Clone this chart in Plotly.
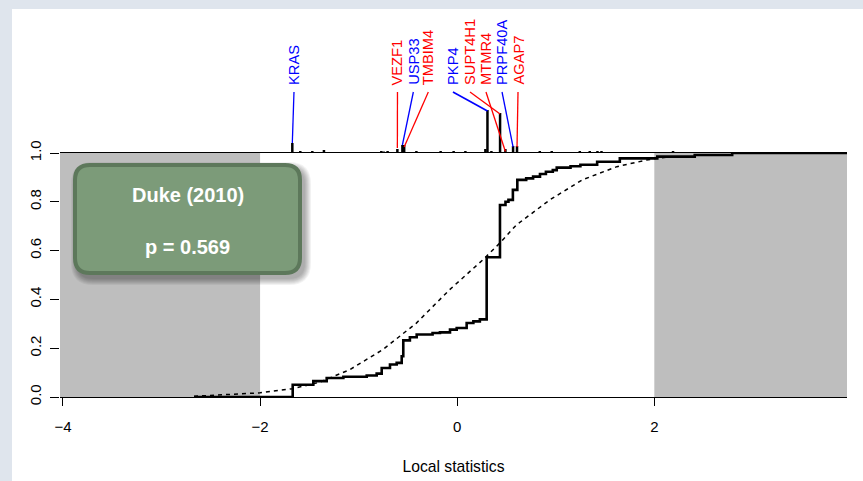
import plotly.graph_objects as go

# ---------------- data ----------------
ecdf_x = [-2.67, -1.669, -1.46, -1.324, -1.155, -0.918, -0.817, -0.766, -0.682, -0.614,
          -0.563, -0.547, -0.48, -0.411, -0.25, -0.175, -0.073, -0.005, 0.096, 0.164,
          0.23, 0.299, 0.434, 0.49, 0.52, 0.565, 0.61, 0.70, 0.77, 0.84, 0.90, 0.97,
          1.01, 1.15, 1.25, 1.42, 1.65, 2.03, 2.41, 2.79, 3.955]
ecdf_y = [0.0, 0.050, 0.065, 0.078, 0.083, 0.088, 0.096, 0.119, 0.133, 0.140,
          0.167, 0.232, 0.245, 0.256, 0.262, 0.265, 0.276, 0.283, 0.303, 0.310,
          0.318, 0.573, 0.787, 0.800, 0.808, 0.849, 0.890, 0.896, 0.903, 0.914, 0.923, 0.930,
          0.940, 0.946, 0.952, 0.964, 0.978, 0.985, 0.992, 1.0, 1.0]

bg_x = [-2.67, -2.4, -2.0, -1.67, -1.4, -1.09, -0.755, -0.414, -0.076, 0.26, 0.43, 0.6,
        0.94, 1.27, 1.62, 1.92, 2.05, 2.2]
bg_y = [0.003, 0.008, 0.017, 0.034, 0.06, 0.112, 0.194, 0.303, 0.44, 0.562, 0.63, 0.705,
        0.808, 0.89, 0.944, 0.971, 0.98, 0.985]

rug_x = [-1.673, -1.592, -1.470, -1.352, -0.770, -0.746, -0.706, -0.607, -0.556, -0.538,
         -0.414, -0.168, -0.036, 0.083, 0.286, 0.307, 0.347, 0.435, 0.489, 0.567, 0.607,
         0.838, 0.959, 1.244, 1.345, 1.423, 1.464, 2.19]
rug_h = [10, 2, 2, 3, 2, 1.5, 2, 4, 8, 8,
         2, 2, 2, 2, 4, 43, 2, 40, 4, 7, 7,
         2, 2, 2, 2, 2, 2, 2]

genes = ["KRAS", "VEZF1", "USP33", "TMBIM4", "PKP4", "SUPT4H1", "MTMR4", "PRPF40A", "AGAP7"]
gene_x = [-1.673, -0.607, -0.556, -0.538, 0.307, 0.435, 0.489, 0.567, 0.607]
gene_top = [10, 5, 8, 6, 42, 39, 1.5, 6, 6]
label_x = [-1.656, -0.606, -0.445, -0.293, -0.043, 0.130, 0.292, 0.455, 0.617]
gene_dir = [-1, 1, -1, 1, -1, 1, 1, -1, 1]

xticks = [-4, -2, 0, 2]
xticktext = ["\u22124", "\u22122", "0", "2"]
yticks = [0, 0.2, 0.4, 0.6, 0.8, 1.0]
yticktext = ["0.0", "0.2", "0.4", "0.6", "0.8", "1.0"]
xlim = [-4.03, 3.955]
grey_zones = [(-4.03, -2.0), (2.0, 3.955)]

study = "Duke (2010)"
pval = "p = 0.569"

# ---------------- geometry ----------------
W, H = 863, 481
ML, MR, MT, MB = 60, 16, 0, 84
PW, PH = W - ML - MR, H - MT - MB
Y_BASE = 153  # pixel row of y = 1
main_top = (H - MB - Y_BASE) / PH
DIR_COL = {1: "#ff0000", -1: "#0000ff"}


def px(x):
    return (x - ML) / PW


def py(y):
    return (H - MB - y) / PH


FONT = "Liberation Sans, Arial, sans-serif"

fig = go.Figure()

# background CDF (dashed)
fig.add_trace(go.Scatter(x=bg_x, y=bg_y, mode="lines",
                         line=dict(color="black", width=1.5, dash="4px,4px"),
                         hoverinfo="skip", showlegend=False))
# gene set ECDF
fig.add_trace(go.Scatter(x=ecdf_x, y=ecdf_y, mode="lines", line_shape="hv",
                         line=dict(color="black", width=2.6),
                         hoverinfo="skip", showlegend=False))

# rug bars
rx, ry = [], []
for xv, hv in zip(rug_x, rug_h):
    rx += [xv, xv, None]
    ry += [0, hv, None]
fig.add_trace(go.Scatter(x=rx, y=ry, mode="lines", yaxis="y2",
                         line=dict(color="black", width=2.5),
                         hoverinfo="skip", showlegend=False))

# connectors + labels
for g, gx, gt, lx, d in zip(genes, gene_x, gene_top, label_x, gene_dir):
    c = DIR_COL[d]
    fig.add_trace(go.Scatter(x=[lx, gx], y=[61, gt], mode="lines", yaxis="y2",
                             line=dict(color=c, width=1.6 if gt > 30 and d < 0 else 1.3),
                             hoverinfo="skip", showlegend=False))
    fig.add_annotation(x=lx, y=66, xref="x", yref="y2", text=g, textangle=-90,
                       showarrow=False, xanchor="center", yanchor="bottom",
                       font=dict(family=FONT, size=14.7, color=c))

shapes = []
# grey zones
for a, b in grey_zones:
    shapes.append(dict(type="rect", xref="x", yref="y", x0=a, x1=b, y0=0, y1=1,
                       fillcolor="#bebebe", line_width=0, layer="below"))

# page frame (blue-grey strips)
shapes.append(dict(type="rect", xref="paper", yref="paper", x0=px(0), x1=px(W),
                   y0=py(9), y1=py(0), fillcolor="#dfe5ed", line_width=0, layer="above"))
shapes.append(dict(type="rect", xref="paper", yref="paper", x0=px(0), x1=px(12),
                   y0=py(H), y1=py(0), fillcolor="#dfe5ed", line_width=0, layer="above"))


def rrect(x0, y0, x1, y1, r):
    return (f"M {px(x0 + r)} {py(y0)} L {px(x1 - r)} {py(y0)} "
            f"Q {px(x1)} {py(y0)} {px(x1)} {py(y0 + r)} "
            f"L {px(x1)} {py(y1 - r)} Q {px(x1)} {py(y1)} {px(x1 - r)} {py(y1)} "
            f"L {px(x0 + r)} {py(y1)} Q {px(x0)} {py(y1)} {px(x0)} {py(y1 - r)} "
            f"L {px(x0)} {py(y0 + r)} Q {px(x0)} {py(y0)} {px(x0 + r)} {py(y0)} Z")


bx0, by0, bx1, by1 = 75, 165, 300, 273
for k in range(7, 0, -1):
    shapes.append(dict(type="path", xref="paper", yref="paper",
                       path=rrect(bx0 + 3 - k, by0 + 4 - k, bx1 + 4 + k, by1 + 5 + k, 15 + k),
                       fillcolor="rgba(0,0,0,0.05)", line_width=0, layer="above"))
shapes.append(dict(type="path", xref="paper", yref="paper", path=rrect(bx0, by0, bx1, by1, 15),
                   fillcolor="#7c9b79", line=dict(color="#5d785b", width=4), layer="above"))

for txt, yy in [(study, 195), (pval, 247)]:
    fig.add_annotation(x=px(187.5), y=py(yy), xref="paper", yref="paper", text=f"<b>{txt}</b>",
                       showarrow=False, xanchor="center", yanchor="middle",
                       font=dict(family=FONT, size=20, color="white"))

fig.update_layout(
    width=W, height=H, autosize=False,
    margin=dict(l=ML, r=MR, t=MT, b=MB, pad=0, autoexpand=False),
    paper_bgcolor="white", plot_bgcolor="white",
    shapes=shapes,
    xaxis=dict(range=xlim, tickvals=xticks, ticktext=xticktext, showgrid=False, zeroline=False,
               showline=True, mirror=True, linecolor="black", linewidth=1, automargin=False,
               ticks="outside", ticklen=8, tickcolor="black", tickwidth=1,
               ticklabelstandoff=8,
               tickfont=dict(family=FONT, size=15, color="black"),
               title=dict(text="Local statistics", standoff=27,
                          font=dict(family=FONT, size=15.7, color="black"))),
    yaxis=dict(domain=[0, main_top], range=[0, 1], tickvals=yticks, ticktext=yticktext,
               showgrid=False, zeroline=False, showline=False, automargin=False,
               ticks="outside", ticklen=9, tickcolor="black", tickwidth=1, tickangle=-90,
               ticklabelstandoff=3,
               tickfont=dict(family=FONT, size=15, color="black")),
    yaxis2=dict(domain=[main_top, 1], range=[0, Y_BASE], visible=False, anchor="x",
                automargin=False),
)

fig.write_html("out.html")
